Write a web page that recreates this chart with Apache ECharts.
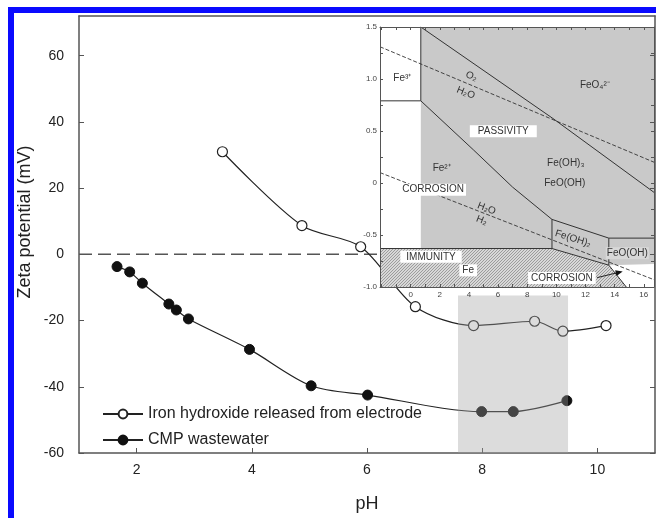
<!DOCTYPE html>
<html>
<head>
<meta charset="utf-8">
<script src="https://cdn.jsdelivr.net/npm/echarts@6/dist/echarts.min.js"></script>
<style>
  html, body { margin: 0; padding: 0; background: #fff; }
  #chart { width: 656px; height: 518px; }
</style>
</head>
<body>
<div id="chart"></div>
<script>
// main plot data
const phIron = [3.49, 4.87, 5.89, 6.84, 7.85, 8.91, 9.40, 10.15];
const zetaIron = [31.0, 8.7, 2.3, -15.8, -21.5, -20.2, -23.2, -21.5];
const phCmp = [1.66, 1.88, 2.10, 2.56, 2.69, 2.90, 3.96, 5.03, 6.01, 7.99, 8.54, 9.47];
const zetaCmp = [-3.7, -5.3, -8.7, -15.0, -16.8, -19.5, -28.7, -39.7, -42.5, -47.5, -47.5, -44.2];
const shadedPh = [7.58, 9.49];
const shadedTop = -12.4;
const xTicks = [2, 4, 6, 8, 10];
const yTicks = [-60, -40, -20, 0, 20, 40, 60];

// inset Pourbaix diagram (pH, E)
const insetXTicks = [0, 2, 4, 6, 8, 10, 12, 14, 16];
const insetXMinor = [-2, -1, 0, 1, 2, 3, 4, 5, 6, 7, 8, 9, 10, 11, 12, 13, 14, 15, 16];
const insetYTicks = [-1, -0.5, 0, 0.5, 1, 1.5];
const insetYMinor = [-1, -0.75, -0.5, -0.25, 0, 0.25, 0.5, 0.75, 1, 1.25, 1.5];
const insetBox = [[-2.1, -1], [16.7, -1], [16.7, 1.5], [-2.1, 1.5]];
const passivityZone = [[0.7, 1.5], [16.7, 1.5], [16.7, -0.78], [13.6, -0.79], [9.7, -0.63], [0.7, -0.63]];
const immunityZone = [[-2.1, -0.63], [9.7, -0.63], [13.6, -0.79], [14.8, -1.0], [-2.1, -1.0]];
const solidBounds = [
  [[-2.1, 0.79], [0.7, 0.79]],
  [[0.7, 1.5], [0.7, 0.79]],
  [[0.7, 1.5], [9.77, 0.62], [16.7, -0.09]],
  [[0.7, 0.79], [4.3, 0.32], [7.0, -0.04], [9.7, -0.35]],
  [[9.7, -0.35], [9.7, -0.63]],
  [[-2.1, -0.63], [9.7, -0.63]],
  [[9.7, -0.35], [13.6, -0.53]],
  [[13.6, -0.53], [16.7, -0.53]],
  [[13.6, -0.53], [13.6, -0.79]],
  [[9.7, -0.63], [13.6, -0.79]],
  [[13.6, -0.79], [14.8, -1.0]]
];
const dashedBounds = [
  [[-2.1, 1.31], [16.7, 0.2]],
  [[-2.1, 0.1], [16.7, -0.93]]
];
const arrowPath = [[12.8, -0.91], [14.55, -0.85]];
const insetLabels = ['Fe³⁺', 'O₂', 'H₂O', 'FeO₄²⁻', 'PASSIVITY', 'Fe²⁺', 'Fe(OH)₃', 'FeO(OH)',
  'CORROSION', 'H₂O', 'H₂', 'Fe(OH)₂', 'FeO(OH)', 'IMMUNITY', 'Fe', 'CORROSION'];
const insetLabelPh = [-0.57, 4.18, 3.78, 12.64, 6.36, 2.13, 10.65, 10.58, 1.55, 5.21, 4.87, 11.15, 14.87, 1.4, 3.95, 10.38];
const insetLabelE = [1.01, 1.026, 0.867, 0.94, 0.497, 0.138, 0.19, -0.006, -0.064, -0.246, -0.359, -0.535, -0.676, -0.71, -0.84, -0.913];

const FONT = 'Liberation Sans, Arial, sans-serif';
const boxed = { 4: [1, 8], 8: [1, 2], 13: [1, 6], 14: [1, 3], 15: [1, 3] };
const tilt = { 1: -0.38, 2: -0.38, 9: -0.37, 10: -0.37, 11: -0.3 };

// hatch pattern for the immunity / corrosion band
const hatch = document.createElement('canvas');
hatch.width = 3; hatch.height = 3;
const hctx = hatch.getContext('2d');
hctx.fillStyle = '#d8d8d8';
hctx.fillRect(0, 0, 3, 3);
hctx.fillStyle = '#9c9c9c';
hctx.fillRect(0, 2, 1, 1);
hctx.fillRect(1, 1, 1, 1);
hctx.fillRect(2, 0, 1, 1);

const fills = [
  { pts: insetBox, fill: '#ffffff' },
  { pts: passivityZone, fill: '#c9c9c9' },
  { pts: immunityZone, fill: { image: hatch, repeat: 'repeat' } }
];
const lines = solidBounds.map(p => ({ pts: p, dash: false }))
  .concat(dashedBounds.map(p => ({ pts: p, dash: true })));

const myChart = echarts.init(document.getElementById('chart'));

const mainAxisLine = { onZero: false, lineStyle: { color: '#555', width: 1.5 } };
const insetAxisLine = { onZero: false, lineStyle: { color: '#555', width: 1 } };

myChart.setOption({
  animation: false,
  textStyle: { fontFamily: FONT },
  grid: [
    { left: 79, top: 16, right: 1, bottom: 63 },
    { left: 380, top: 27, right: 2, bottom: 231 }
  ],
  legend: {
    orient: 'vertical',
    left: 97,
    top: 401,
    itemWidth: 40,
    itemHeight: 11,
    itemGap: 10,
    textStyle: { fontSize: 16, color: '#222', fontFamily: FONT },
    data: ['Iron hydroxide released from electrode', 'CMP wastewater']
  },
  xAxis: [
    {
      type: 'value', gridIndex: 0, min: 1, max: 11,
      name: 'pH', nameLocation: 'middle', nameGap: 42,
      nameTextStyle: { fontSize: 18, color: '#222' },
      axisLine: mainAxisLine,
      axisTick: { inside: true, length: 5, customValues: xTicks, lineStyle: { color: '#555' } },
      axisLabel: { customValues: xTicks, fontSize: 14, color: '#222', margin: 10 },
      splitLine: { show: false }
    },
    {
      type: 'value', gridIndex: 0, min: 1, max: 11, position: 'top',
      axisLine: mainAxisLine, axisTick: { show: false }, axisLabel: { show: false },
      splitLine: { show: false }
    },
    {
      type: 'value', gridIndex: 1, min: -2.1, max: 16.7, z: 20,
      axisLine: insetAxisLine,
      axisTick: { inside: true, length: 3, customValues: insetXMinor, lineStyle: { color: '#555' } },
      axisLabel: { customValues: insetXTicks, fontSize: 8, color: '#444', margin: 4 },
      splitLine: { show: false }
    },
    {
      type: 'value', gridIndex: 1, min: -2.1, max: 16.7, position: 'top', z: 20,
      axisLine: insetAxisLine,
      axisTick: { inside: true, length: 3, customValues: insetXMinor, lineStyle: { color: '#555' } },
      axisLabel: { show: false }, splitLine: { show: false }
    }
  ],
  yAxis: [
    {
      type: 'value', gridIndex: 0, min: -60, max: 72,
      axisLine: { show: true, onZero: false, lineStyle: { color: '#555', width: 1.5 } },
      axisTick: { show: true, inside: true, length: 5, customValues: yTicks, lineStyle: { color: '#555' } },
      axisLabel: { customValues: yTicks, fontSize: 14, color: '#222', margin: 15 },
      splitLine: { show: false }
    },
    {
      type: 'value', gridIndex: 0, min: -60, max: 72, position: 'right', z: 25,
      axisLine: { show: true, onZero: false, lineStyle: { color: '#555', width: 1.5 } },
      axisTick: { show: true, inside: true, length: 5, customValues: yTicks, lineStyle: { color: '#555' } },
      axisLabel: { show: false }, splitLine: { show: false }
    },
    {
      type: 'value', gridIndex: 1, min: -1, max: 1.5, z: 20,
      axisLine: { show: true, onZero: false, lineStyle: { color: '#555', width: 1 } },
      axisTick: { show: true, inside: true, length: 3, customValues: insetYMinor, lineStyle: { color: '#555' } },
      axisLabel: {
        customValues: insetYTicks, fontSize: 8, color: '#444', margin: 3,
        formatter: v => (v === 0 ? '0' : v.toFixed(1))
      },
      splitLine: { show: false }
    },
    {
      type: 'value', gridIndex: 1, min: -1, max: 1.5, position: 'right', z: 20,
      axisLine: { show: true, onZero: false, lineStyle: { color: '#555', width: 1 } },
      axisTick: { show: true, inside: true, length: 3, customValues: insetYMinor, lineStyle: { color: '#555' } },
      axisLabel: { show: false }, splitLine: { show: false }
    }
  ],
  graphic: [
    {
      type: 'rect', z: 100, silent: true,
      shape: { x: 11, y: 10, width: 700, height: 600 },
      style: { fill: 'none', stroke: '#0a0aff', lineWidth: 6 }
    },
    {
      type: 'text', z: 100, silent: true,
      x: 25, y: 222, rotation: Math.PI / 2,
      style: {
        text: 'Zeta potential (mV)', font: '18px ' + FONT, fill: '#222',
        align: 'center', verticalAlign: 'middle'
      }
    }
  ],
  series: [
    {
      name: 'zero', type: 'line', xAxisIndex: 0, yAxisIndex: 0,
      data: [[1, 0], [11, 0]], symbol: 'none', silent: true,
      lineStyle: { color: '#555', width: 1.5, type: [13, 6] }
    },
    {
      name: 'Iron hydroxide released from electrode', type: 'line',
      xAxisIndex: 0, yAxisIndex: 0, smooth: 0.3,
      data: phIron.map((x, i) => [x, zetaIron[i]]),
      symbol: 'circle', symbolSize: 10,
      lineStyle: { color: '#222', width: 1.2 },
      itemStyle: { color: '#ffffff', borderColor: '#222', borderWidth: 1.2 }
    },
    {
      name: 'CMP wastewater', type: 'line',
      xAxisIndex: 0, yAxisIndex: 0, smooth: 0.3,
      data: phCmp.map((x, i) => [x, zetaCmp[i]]),
      symbol: 'circle', symbolSize: 10,
      lineStyle: { color: '#222', width: 1.2 },
      itemStyle: { color: '#111', borderColor: '#111', borderWidth: 1 }
    },
    {
      name: 'shade', type: 'custom', xAxisIndex: 0, yAxisIndex: 0, z: 4, silent: true,
      data: [[shadedPh[0], shadedTop, shadedPh[1]]],
      renderItem: (params, api) => {
        const a = api.coord([api.value(0), api.value(1)]);
        const b = api.coord([api.value(2), -60]);
        return {
          type: 'rect',
          shape: { x: a[0], y: a[1], width: b[0] - a[0], height: b[1] - a[1] },
          style: { fill: 'rgba(160,160,160,0.37)' }
        };
      }
    },
    {
      name: 'insetFill', type: 'custom', xAxisIndex: 2, yAxisIndex: 2, z: 10, silent: true,
      data: fills.map((f, i) => [f.pts[0][0], f.pts[0][1], i]),
      renderItem: (params, api) => {
        const f = fills[api.value(2)];
        return {
          type: 'polygon',
          shape: { points: f.pts.map(p => api.coord(p)) },
          style: { fill: f.fill }
        };
      }
    },
    {
      name: 'insetLines', type: 'custom', xAxisIndex: 2, yAxisIndex: 2, z: 11, silent: true,
      data: lines.map((l, i) => [l.pts[0][0], l.pts[0][1], i]),
      renderItem: (params, api) => {
        const l = lines[api.value(2)];
        return {
          type: 'polyline',
          shape: { points: l.pts.map(p => api.coord(p)) },
          style: {
            fill: 'none', stroke: '#333', lineWidth: l.dash ? 0.9 : 1,
            lineDash: l.dash ? [4, 2] : null
          }
        };
      }
    },
    {
      name: 'insetArrow', type: 'custom', xAxisIndex: 2, yAxisIndex: 2, z: 13, silent: true,
      data: [[arrowPath[0][0], arrowPath[0][1]]],
      renderItem: (params, api) => {
        const a = api.coord(arrowPath[0]);
        const b = api.coord(arrowPath[1]);
        const ang = Math.atan2(b[1] - a[1], b[0] - a[0]);
        const L = 7, W = 3;
        const bx = b[0] - L * Math.cos(ang), by = b[1] - L * Math.sin(ang);
        const head = [b, [bx + W * Math.sin(ang), by - W * Math.cos(ang)], [bx - W * Math.sin(ang), by + W * Math.cos(ang)]];
        return {
          type: 'group',
          children: [
            { type: 'line', shape: { x1: a[0], y1: a[1], x2: bx, y2: by }, style: { stroke: '#222', lineWidth: 1 } },
            { type: 'polygon', shape: { points: head }, style: { fill: '#111' } }
          ]
        };
      }
    },
    {
      name: 'insetLabels', type: 'custom', xAxisIndex: 2, yAxisIndex: 2, z: 12, silent: true,
      data: insetLabels.map((t, i) => [insetLabelPh[i], insetLabelE[i], i]),
      renderItem: (params, api) => {
        const i = api.value(2);
        const p = api.coord([api.value(0), api.value(1)]);
        const box = boxed[i];
        return {
          type: 'text',
          x: p[0], y: p[1],
          rotation: tilt[i] || 0,
          style: {
            text: insetLabels[i],
            font: '10px ' + FONT,
            fill: '#333',
            align: 'center', verticalAlign: 'middle',
            backgroundColor: box ? '#ffffff' : (i === 12 ? '#d8d8d8' : null),
            padding: box ? [box[0], box[1]] : (i === 12 ? [1, 1] : 0)
          }
        };
      }
    }
  ]
});
</script>
</body>
</html>
